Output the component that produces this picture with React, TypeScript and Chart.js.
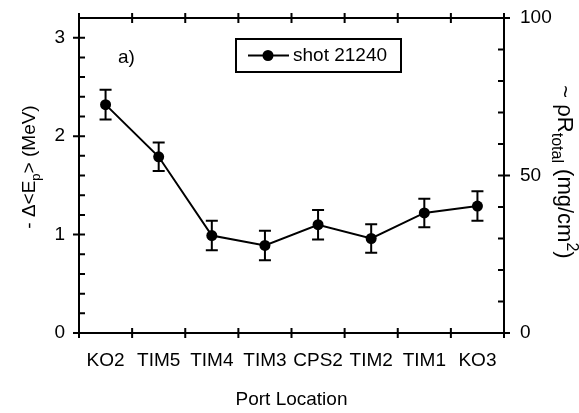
import React, { useEffect, useRef } from "react";
import { Chart, registerables } from "chart.js";

Chart.register(...registerables);

const categories = ["KO2", "TIM5", "TIM4", "TIM3", "CPS2", "TIM2", "TIM1", "KO3"];
const energyLoss = [2.32, 1.79, 0.99, 0.89, 1.1, 0.96, 1.22, 1.29];
const energyErr = [0.15, 0.145, 0.15, 0.15, 0.15, 0.145, 0.145, 0.15];
const leftMajorTicks = [0, 1, 2, 3];
const leftRange = [0, 3.2];
const leftMinorStep = 0.2;
const rightMajorTicks = [0, 50, 100];
const rightRange = [0, 100];
const rightMinorStep = 10;
const seriesLabel = "shot 21240";
const panelLabel = "a)";
const xTitle = "Port Location";
const leftTitleParts = [
  { t: "- \u0394<E", k: "n" },
  { t: "p", k: "sub" },
  { t: "> (MeV)", k: "n" },
];
const rightTitleParts = [
  { t: "~ \u03c1R", k: "n" },
  { t: "total", k: "sub" },
  { t: " (mg/cm", k: "n" },
  { t: "2", k: "sup" },
  { t: ")", k: "n" },
];

const FONT = '"Liberation Sans", Arial, Helvetica, sans-serif';
const FS = 19;

function drawRich(
  ctx: CanvasRenderingContext2D,
  parts: { t: string; k: string }[],
  cx: number,
  cy: number,
  rot: number,
  fs: number,
  sfs: number
) {
  ctx.save();
  ctx.translate(cx, cy);
  ctx.rotate(rot);
  ctx.fillStyle = "#000";
  ctx.textBaseline = "alphabetic";
  ctx.textAlign = "left";
  const widths = parts.map((p) => {
    ctx.font = `${p.k === "n" ? fs : sfs}px ${FONT}`;
    return ctx.measureText(p.t).width;
  });
  const total = widths.reduce((a, b) => a + b, 0);
  let x = -total / 2;
  const base = fs * 0.37;
  parts.forEach((p, i) => {
    ctx.font = `${p.k === "n" ? fs : sfs}px ${FONT}`;
    let dy = 0;
    if (p.k === "sub") dy = fs * 0.27;
    if (p.k === "sup") dy = -fs * 0.42;
    ctx.fillText(p.t, x, base + dy);
    x += widths[i];
  });
  ctx.restore();
}

const decorPlugin = {
  id: "decor",
  afterDatasetsDraw(chart: any) {
    const ctx: CanvasRenderingContext2D = chart.ctx;
    const xs = chart.scales.x;
    const ys = chart.scales.y;
    ctx.save();
    ctx.strokeStyle = "#000";
    ctx.lineWidth = 2;
    energyLoss.forEach((v, i) => {
      const px = xs.getPixelForValue(i);
      const top = ys.getPixelForValue(v + energyErr[i]);
      const bot = ys.getPixelForValue(v - energyErr[i]);
      ctx.beginPath();
      ctx.moveTo(px, top);
      ctx.lineTo(px, bot);
      ctx.moveTo(px - 6, top);
      ctx.lineTo(px + 6, top);
      ctx.moveTo(px - 6, bot);
      ctx.lineTo(px + 6, bot);
      ctx.stroke();
    });
    ctx.restore();
  },
  afterDraw(chart: any) {
    const ctx: CanvasRenderingContext2D = chart.ctx;
    const { left, right, top, bottom } = chart.chartArea;
    const xs = chart.scales.x;
    const ys = chart.scales.y;
    const y2 = chart.scales.y2;
    ctx.save();
    ctx.strokeStyle = "#000";
    ctx.lineWidth = 2;
    ctx.lineCap = "butt";
    ctx.strokeRect(left, top, right - left, bottom - top);
    ctx.beginPath();
    const nL = Math.round((leftRange[1] - leftRange[0]) / leftMinorStep);
    for (let k = 0; k <= nL; k++) {
      const v = leftRange[0] + k * leftMinorStep;
      const py = ys.getPixelForValue(v);
      const major = leftMajorTicks.some((t) => Math.abs(t - v) < 1e-6);
      ctx.moveTo(major ? left - 6 : left, py);
      ctx.lineTo(left + 6, py);
    }
    const nR = Math.round((rightRange[1] - rightRange[0]) / rightMinorStep);
    for (let k = 0; k <= nR; k++) {
      const v = rightRange[0] + k * rightMinorStep;
      const py = y2.getPixelForValue(v);
      const major = rightMajorTicks.some((t) => Math.abs(t - v) < 1e-6);
      ctx.moveTo(right - 6, py);
      ctx.lineTo(major ? right + 6 : right, py);
    }
    for (let i = 0; i <= categories.length; i++) {
      const px = xs.getPixelForValue(i - 0.5);
      ctx.moveTo(px, bottom - 5);
      ctx.lineTo(px, bottom + 5);
      ctx.moveTo(px, top - 5);
      ctx.lineTo(px, top + 5);
    }
    ctx.stroke();

    // legend box
    const lx = left + 157;
    const ly = top + 21;
    const lw = 165;
    const lh = 33;
    ctx.strokeRect(lx, ly, lw, lh);
    const cy = ly + lh / 2;
    ctx.beginPath();
    ctx.moveTo(lx + 12, cy);
    ctx.lineTo(lx + 53, cy);
    ctx.stroke();
    ctx.fillStyle = "#000";
    ctx.beginPath();
    ctx.arc(lx + 32, cy, 5.5, 0, Math.PI * 2);
    ctx.fill();
    ctx.font = `${FS}px ${FONT}`;
    ctx.textBaseline = "middle";
    ctx.textAlign = "left";
    ctx.fillText(chart.data.datasets[0].label, lx + 57, cy);
    ctx.fillText(panelLabel, left + 39, top + 40);

    drawRich(ctx, leftTitleParts, 28, 167, -Math.PI / 2, 19, 13);
    drawRich(ctx, rightTitleParts, 566, 172, Math.PI / 2, 22, 16);
    ctx.restore();
  },
};

export default function App() {
  const ref = useRef<HTMLCanvasElement | null>(null);
  useEffect(() => {
    document.body.style.margin = "0";
    document.body.style.background = "#fff";
    const canvas = ref.current!;
    const chart = new Chart(canvas, {
      type: "line",
      data: {
        labels: categories,
        datasets: [
          {
            label: seriesLabel,
            data: energyLoss,
            borderColor: "#000",
            backgroundColor: "#000",
            borderWidth: 2,
            pointRadius: 5.5,
            pointBackgroundColor: "#000",
            pointBorderColor: "#000",
            pointBorderWidth: 0,
            tension: 0,
            yAxisID: "y",
          },
        ],
      },
      options: {
        responsive: false,
        animation: false,
        devicePixelRatio: 1,
        layout: { padding: { top: 18, left: 0, right: 0, bottom: 0 } },
        plugins: {
          legend: { display: false },
          tooltip: { enabled: false },
        },
        scales: {
          x: {
            type: "category",
            offset: true,
            grid: { display: false, drawTicks: false },
            border: { display: false },
            ticks: {
              color: "#000",
              font: { family: FONT, size: FS },
              padding: 16,
              maxRotation: 0,
              autoSkip: false,
            },
            title: {
              display: true,
              text: xTitle,
              color: "#000",
              font: { family: FONT, size: FS },
              padding: { top: 0, bottom: 2 },
            },
            afterFit: (s: any) => {
              s.height = 80;
            },
          },
          y: {
            type: "linear",
            position: "left",
            min: leftRange[0],
            max: leftRange[1],
            grid: {
              display: true,
              drawOnChartArea: false,
              drawTicks: true,
              tickLength: 10,
              tickColor: "rgba(0,0,0,0)",
            },
            border: { display: false },
            ticks: {
              color: "#000",
              font: { family: FONT, size: FS },
              padding: 4,
            },
            afterBuildTicks: (s: any) => {
              s.ticks = leftMajorTicks.map((v) => ({ value: v }));
            },
            afterFit: (s: any) => {
              s.width = 79;
            },
          },
          y2: {
            type: "linear",
            position: "right",
            min: rightRange[0],
            max: rightRange[1],
            grid: {
              display: true,
              drawOnChartArea: false,
              drawTicks: true,
              tickLength: 10,
              tickColor: "rgba(0,0,0,0)",
            },
            border: { display: false },
            ticks: {
              color: "#000",
              font: { family: FONT, size: FS },
              padding: 6,
            },
            afterBuildTicks: (s: any) => {
              s.ticks = rightMajorTicks.map((v) => ({ value: v }));
            },
            afterFit: (s: any) => {
              s.width = 75;
            },
          },
        },
      },
      plugins: [decorPlugin],
    } as any);
    return () => chart.destroy();
  }, []);
  return (
    <div style={{ width: 579, height: 413, background: "#fff" }}>
      <canvas ref={ref} width={579} height={413} style={{ display: "block" }} />
    </div>
  );
}
